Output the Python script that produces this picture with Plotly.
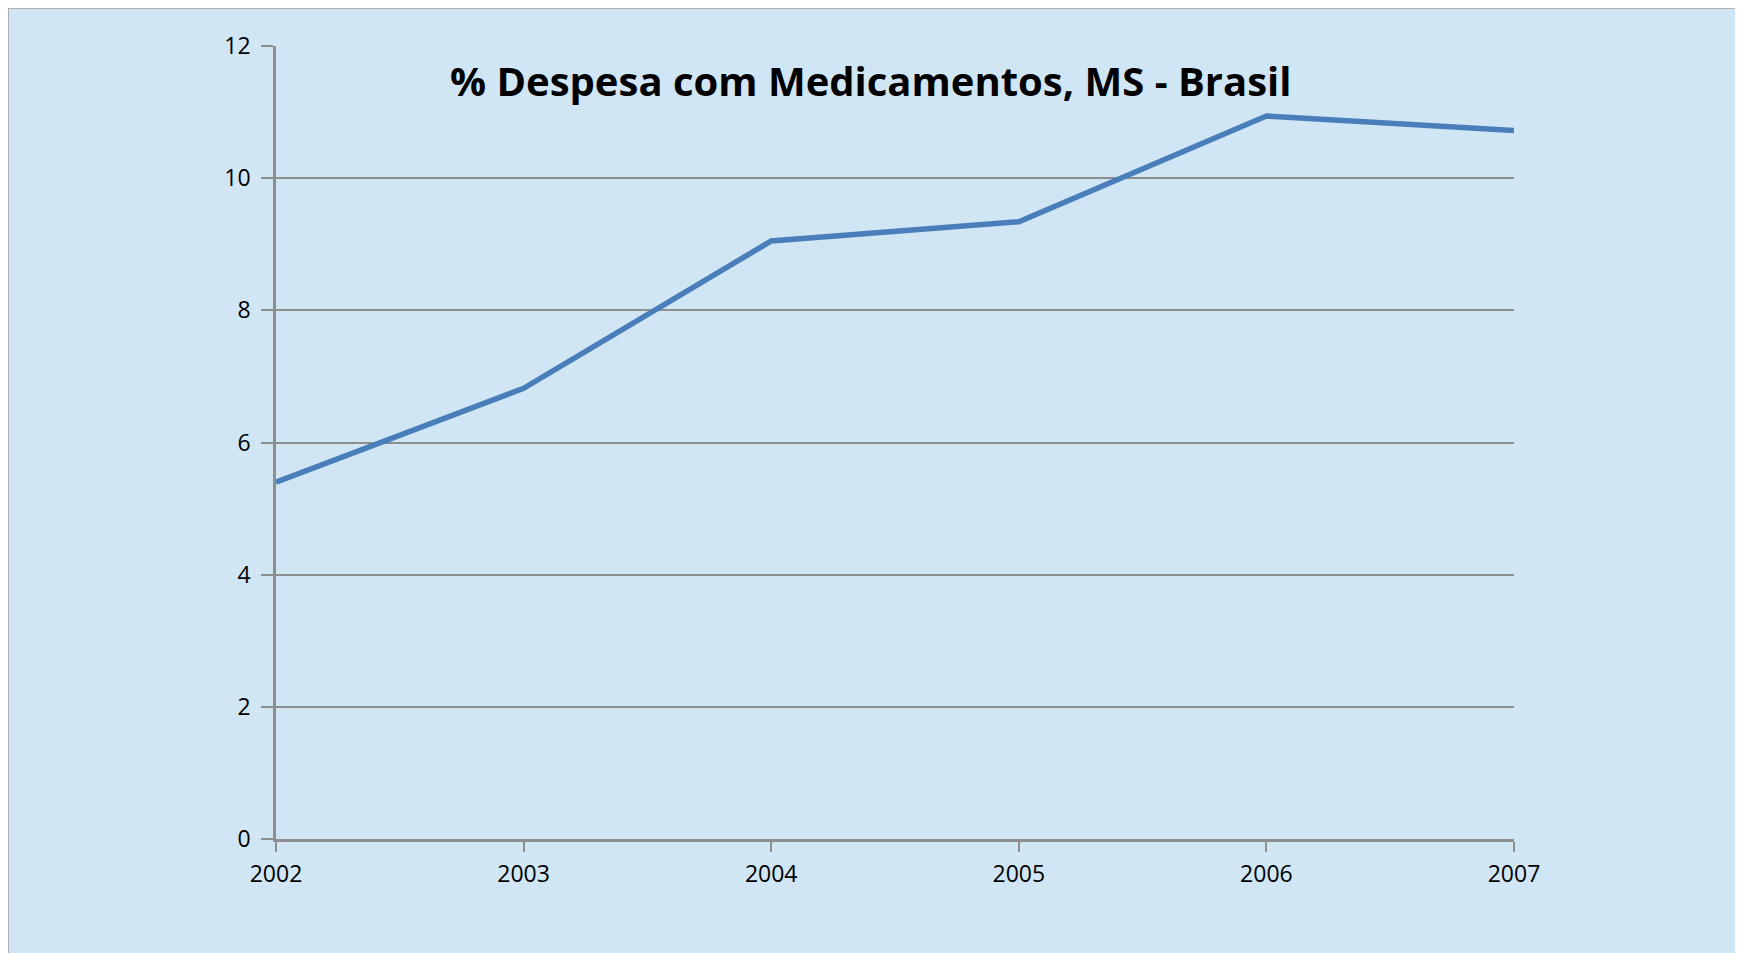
import plotly.graph_objects as go

years = [2002, 2003, 2004, 2005, 2006, 2007]
pct_despesa = [5.40, 6.82, 9.05, 9.34, 10.94, 10.72]
y_ticks = [0, 2, 4, 6, 8, 10, 12]
title_text = "% Despesa com Medicamentos, MS - Brasil"

W, H = 1743, 953
OFF = 8  # page body margin
L, T = 276 - OFF, 46 - OFF
R = W - (1514 - OFF)
B = H - (839 - OFF)
pw, ph = W - L - R, H - T - B

def px_x(p):
    return (p - OFF - L) / pw

def px_y(p):
    return (H - B - (p - OFF)) / ph

bg = "#D0E6F4"
grid = "#8E8E8E"
font = "Open Sans"

fig = go.Figure()
fig.add_trace(go.Scatter(x=years, y=pct_despesa, mode="lines",
                         line=dict(color="#4A7EBB", width=5.5),
                         showlegend=False, hoverinfo="x+y"))

fig.update_layout(
    width=W, height=H,
    margin=dict(l=L, r=R, t=T, b=B, autoexpand=False),
    paper_bgcolor="white",
    plot_bgcolor="rgba(0,0,0,0)",
    showlegend=False,
    xaxis=dict(range=[2002, 2007], tickmode="array", tickvals=years,
               ticktext=[str(y) for y in years], showgrid=False,
               showline=True, linecolor=grid, linewidth=2.5,
               ticks="outside", ticklen=10, tickwidth=2, tickcolor=grid,
               tickfont=dict(family=font, size=23, color="black"),
               ticklabelstandoff=3, zeroline=False, fixedrange=True),
    yaxis=dict(range=[0, 12], tickmode="array", tickvals=y_ticks,
               showgrid=True, gridcolor=grid, gridwidth=2,
               showline=True, linecolor=grid, linewidth=2.5,
               ticks="outside", ticklen=12, tickwidth=2, tickcolor=grid,
               tickfont=dict(family=font, size=23, color="black"),
               ticklabelstandoff=6, zeroline=False, fixedrange=True),
    shapes=[dict(type="rect", xref="paper", yref="paper",
                 x0=px_x(8), x1=px_x(1736), y0=px_y(975), y1=px_y(8),
                 fillcolor=bg, line=dict(color="#B0B0B0", width=2),
                 layer="below")],
    annotations=[dict(text=title_text, xref="paper", yref="paper",
                      x=px_x(870), y=px_y(80), xanchor="center", yanchor="middle",
                      showarrow=False,
                      font=dict(family=font, size=40, color="black", weight="bold"))],
)

fig.write_html("out.html")
